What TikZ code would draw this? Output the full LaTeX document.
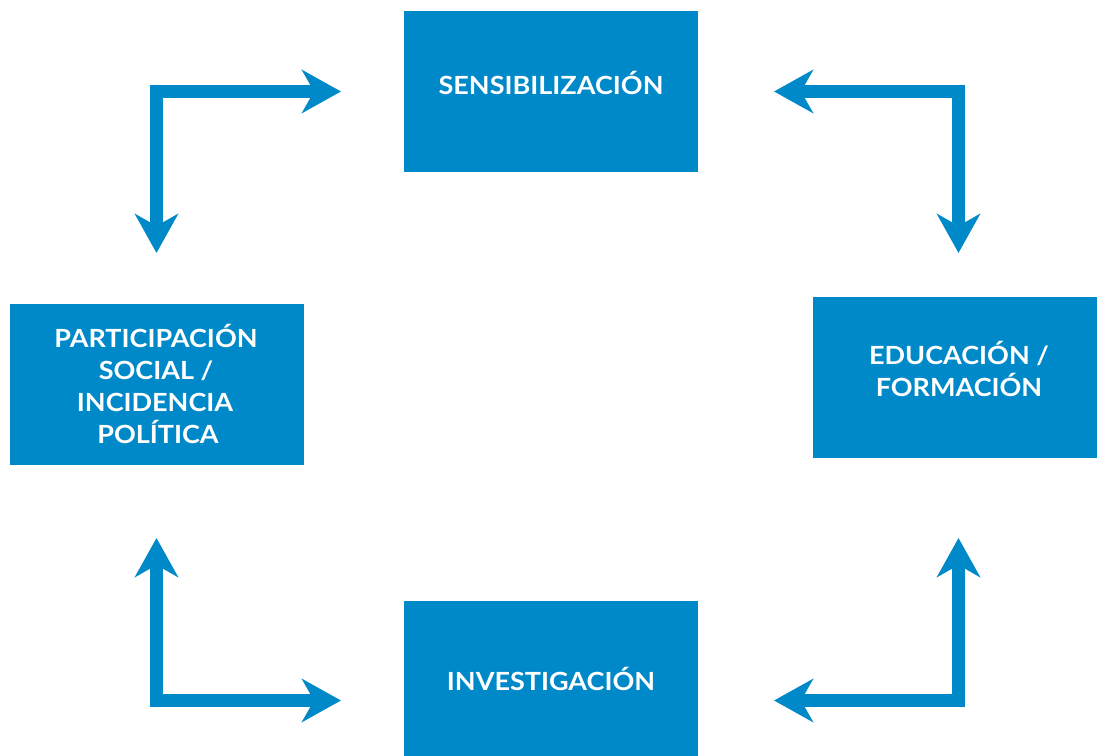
\documentclass[tikz,border=0pt]{standalone}
\usepackage{fontspec}
\newfontfamily\latofont[FakeStretch=1.08]{Lato}
\usetikzlibrary{arrows.meta}
\definecolor{cblue}{RGB}{0,137,201}
\tikzset{
  box/.style={fill=cblue, draw=none, minimum width=294pt, minimum height=161pt, inner sep=0pt},
  lbl/.style={text=white, font=\latofont\bfseries\fontsize{25}{32}\selectfont, align=center, inner sep=0pt},
  conn/.style={draw=cblue, line width=13pt, line join=miter, {Stealth[length=39pt,width=43pt,inset=12pt]}-{Stealth[length=39pt,width=43pt,inset=12pt]}}
}
\begin{document}
\begin{tikzpicture}[x=1pt,y=1pt]
\useasboundingbox (0,0) rectangle (1097,755);
\clip (0,0) rectangle (1097,755);
% boxes
\node[box] (sens) at (551,663.5) {};
\node[box] (part) at (157,370.5) {};
\node[box, minimum width=292pt] (educ) at (959,377) {};
\node[box] (inv) at (551,73.5) {};
% texts
\node[lbl, anchor=base] (tsens) at (551,660.7) {SENSIBILIZACIÓN};
\node[lbl, anchor=base] (tinv) at (551,65) {INVESTIGACIÓN};
\node[lbl, anchor=base] (teduc1) at (959,390) {EDUCACIÓN /};
\node[lbl, anchor=base] (teduc2) at (959,358) {FORMACIÓN};
\node[lbl, anchor=base] (tpart1) at (156,407.3) {PARTICIPACIÓN};
\node[lbl, anchor=base] (tpart2) at (156,375.3) {SOCIAL /};
\node[lbl, anchor=base] (tpart3) at (155,343.3) {INCIDENCIA};
\node[lbl, anchor=base] (tpart4) at (158,311.3) {POLÍTICA};
% arrow end points
\coordinate (tlA) at (156.5,502);
\coordinate (tlB) at (341,663.5);
\coordinate (trA) at (774,663.5);
\coordinate (trB) at (958.5,502);
\coordinate (blA) at (156.5,217);
\coordinate (blB) at (341,54.5);
\coordinate (brA) at (774,54.5);
\coordinate (brB) at (958.5,217);
% connectors
\draw[conn] (tlA) |- (tlB);
\draw[conn] (trA) -| (trB);
\draw[conn] (blA) |- (blB);
\draw[conn] (brA) -| (brB);
\end{tikzpicture}
\end{document}
